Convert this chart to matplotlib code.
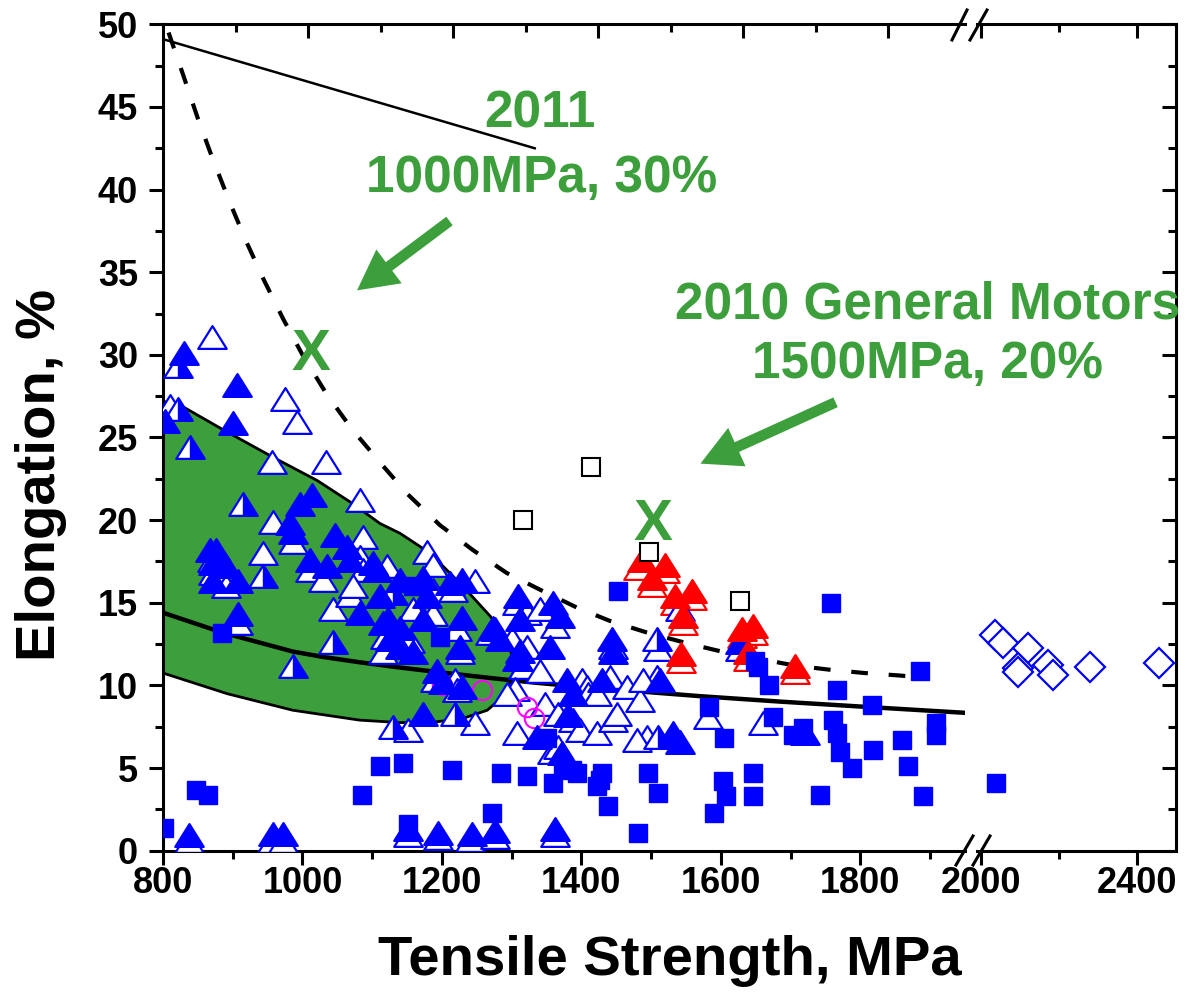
import matplotlib
matplotlib.use("Agg")
import matplotlib.pyplot as plt
from matplotlib.path import Path
from matplotlib.lines import Line2D
from matplotlib.ticker import MultipleLocator, FixedLocator

plt.rcParams['font.family'] = ['Liberation Sans', 'DejaVu Sans']
plt.rcParams['font.weight'] = 'bold'

GREEN = '#3c9f3c'
BLUE = '#0000ff'

# --- data (MPa, %) ---
# open blue triangles
open_x = [870, 810, 975, 992, 956, 1034, 958, 986, 1082, 870, 872, 890, 908, 943, 1011, 1029,
          1044, 1087, 1082, 1087, 1068, 1115, 1072, 1178, 1187, 1121, 1187, 1216, 1247, 1158,
          1187, 1221, 1118, 1154, 1190, 1219, 1226, 1269, 1276, 1221, 1151, 1247, 1308, 1322,
          1341, 1362, 1300, 1322, 1316, 1341, 1305, 1293, 1348, 1366, 1388, 1398, 1308, 1358,
          1401, 1408, 1409, 1422, 1445, 1451, 1441, 1422, 1445, 1465, 1484, 1510, 1508, 1488,
          1494, 1480, 1366, 1582, 1660, 837, 956, 972, 1152, 1194, 1240, 1276, 1362, 1627]
open_y = [31.1, 26.9, 27.3, 25.95, 23.5, 23.5, 19.9, 18.7, 21.2, 17.6, 16.8, 16.0, 13.8, 18.0, 17.0, 16.4,
          14.6, 19.0, 17.8, 17.0, 15.5, 12.0, 16.0, 18.1, 17.3, 17.2, 15.8, 15.8, 16.3, 14.6,
          14.3, 13.4, 12.9, 12.7, 10.3, 10.3, 12.0, 13.2, 13.4, 9.7, 7.3, 7.7, 15.0, 14.4,
          14.6, 13.6, 12.8, 12.3, 11.1, 10.9, 9.8, 9.5, 8.9, 8.3, 7.9, 7.3, 7.1, 6.0,
          10.3, 9.9, 9.5, 7.1, 7.9, 8.3, 10.5, 9.5, 12.3, 9.9, 9.1, 12.2, 10.5, 10.3,
          6.9, 6.7, 6.3, 8.1, 7.7, 0.6, 0.6, 0.6, 0.95, 0.75, 0.65, 0.8, 0.95, 12.2]

# half filled blue triangles (right half blue)
half_x = [822, 821, 839, 915, 943, 986, 1044, 1130, 1130, 1219, 1508, 1510, 1541]
half_y = [29.3, 26.7, 24.4, 21.0, 16.6, 11.2, 12.6, 15.6, 7.5, 8.3, 12.8, 6.9, 14.6]

# filled blue triangles
fill_x = [830, 803, 906, 900, 996, 1014, 982, 986, 867, 876, 872, 890, 872, 908, 908, 1011,
          1035, 1047, 1064, 1068, 1107, 1111, 1082, 1115, 1125, 1101, 1140, 1173, 1178, 1211,
          1229, 1173, 1229, 1122, 1140, 1140, 1158, 1193, 1201, 1226, 1273, 1283, 1229, 1173,
          1309, 1312, 1359, 1369, 1312, 1308, 1355, 1381, 1336, 1379, 1388, 1429, 1444, 1445,
          1513, 1531, 1372, 1720, 1541, 1627, 837, 958, 972, 1152, 1194, 1243, 1276, 1362]
fill_y = [30.1, 26.0, 28.2, 25.9, 21.0, 21.5, 19.8, 19.3, 18.2, 18.2, 17.4, 17.2, 16.3, 16.3, 14.3, 17.6,
          17.2, 19.1, 18.4, 17.6, 17.0, 15.4, 14.4, 13.8, 12.8, 17.4, 16.4, 16.5, 15.4, 16.2,
          16.4, 14.0, 14.1, 14.0, 13.5, 12.3, 12.0, 10.9, 10.2, 12.3, 13.5, 12.8, 9.9, 8.3,
          15.4, 14.0, 15.0, 14.2, 12.1, 11.6, 12.3, 8.2, 6.9, 10.3, 9.5, 10.3, 12.8, 12.0,
          10.3, 7.1, 5.9, 7.1, 6.6, 12.6, 0.95, 1.0, 1.0, 1.3, 1.1, 1.0, 1.2, 1.3]

# red triangles
red_open_x = [1481, 1520, 1501, 1534, 1558, 1546, 1543, 1630, 1646, 1639, 1706]
red_open_y = [17.1, 16.9, 16.1, 15.0, 15.3, 13.8, 11.5, 13.0, 13.2, 11.6, 10.8]
red_fill_x = [1487, 1520, 1501, 1534, 1558, 1546, 1543, 1630, 1646, 1639, 1706]
red_fill_y = [17.6, 17.3, 16.5, 15.4, 15.7, 14.2, 11.9, 13.4, 13.6, 12.0, 11.2]

# filled blue squares
sq_x = [802, 847, 865, 885, 1085, 1111, 1144, 1152, 1158, 1197, 1214, 1272, 1285, 1322, 1350,
        1359, 1374, 1386, 1393, 1422, 1427, 1429, 1438, 1452, 1481, 1495, 1510, 1583, 1590,
        1603, 1604, 1608, 1646, 1646, 1649, 1653, 1669, 1675, 1703, 1718, 1742, 1758, 1761,
        1766, 1766, 1771, 1788, 1816, 1818, 1860, 1868, 1885, 1890, 1908, 1908, 2038]
sq_y = [1.4, 3.7, 3.4, 13.2, 3.4, 5.1, 5.3, 1.6, 16.0, 12.9, 4.9, 2.3, 4.7, 4.5, 6.8,
        4.1, 5.1, 4.9, 4.7, 3.9, 4.3, 4.7, 2.7, 15.7, 1.1, 4.7, 3.5, 8.7, 2.3,
        4.2, 6.8, 3.3, 4.7, 3.3, 11.5, 11.1, 10.0, 8.1, 7.0, 7.4, 3.4, 15.0, 7.9,
        9.7, 7.1, 6.0, 5.0, 8.8, 6.1, 6.7, 5.1, 10.9, 3.3, 7.7, 7.0, 4.1]

# open black squares
bsq_x = [1316, 1413, 1497, 1627]
bsq_y = [20.0, 23.2, 18.1, 15.1]

# magenta open circles
circ_x = [1200, 1258, 1322, 1332]
circ_y = [10.0, 9.7, 8.7, 8.0]

# open blue diamonds (after the axis break)
dia_x = [2036, 2056, 2120, 2095, 2095, 2172, 2185, 2280, 2456]
dia_y = [13.06, 12.57, 12.27, 11.06, 10.8, 11.24, 10.64, 11.1, 11.36]

# curves
dash_x = [808, 830, 850, 870, 895, 920, 945, 972, 1000, 1035, 1071, 1111, 1150, 1197, 1244,
          1293, 1345, 1394, 1441, 1494, 1556, 1606, 1656, 1706, 1756, 1806, 1856, 1870]
dash_y = [49.5, 46.8, 44.3, 42.0, 39.3, 36.8, 34.5, 32.2, 30.0, 27.6, 25.5, 23.5, 21.6, 19.7, 18.2,
          16.8, 15.7, 14.7, 13.9, 13.2, 12.5, 12.0, 11.6, 11.2, 10.95, 10.75, 10.6, 10.55]
trend_x = [800, 885, 986, 1030, 1082, 1140, 1200, 1269, 1330, 1398, 1494, 1570, 1685, 1828, 1947]
trend_y = [14.4, 13.2, 12.05, 11.72, 11.4, 11.08, 10.78, 10.45, 10.18, 9.92, 9.6, 9.35, 9.02, 8.65, 8.35]
top_x = [800, 1333]
top_y = [49.1, 42.5]

# green band
band_x = [800, 829, 885, 958, 1021, 1072, 1111, 1140, 1183, 1230, 1269, 1293, 1302, 1302,
          1287, 1265, 1230, 1183, 1140, 1082, 986, 892, 800]
band_y = [27.2, 26.85, 25.5, 23.8, 22.4, 21.0, 19.8, 19.2, 18.0, 16.0, 14.2, 12.8, 11.6, 10.5,
          9.3, 8.5, 8.0, 7.75, 7.75, 7.9, 8.5, 9.5, 10.75]

# --- figure ---
fig = plt.figure(figsize=(11.92, 9.97), dpi=100)
W, H = 1192.0, 997.0
bot = (H - 850.7) / H
hgt = (850.7 - 24.3) / H
ax1 = fig.add_axes([163 / W, bot, (965 - 163) / W, hgt])
ax2 = fig.add_axes([977 / W, bot, (1176 - 977) / W, hgt])

tri = Path([(-1, -0.8), (1, -0.8), (0, 0.8), (-1, -0.8)],
           [Path.MOVETO, Path.LINETO, Path.LINETO, Path.CLOSEPOLY])
tri_r = Path([(0, 0.8), (0, -0.8), (1, -0.8), (0, 0.8)],
             [Path.MOVETO, Path.LINETO, Path.LINETO, Path.CLOSEPOLY])

ax1.fill(band_x, band_y, facecolor=GREEN, edgecolor='black', lw=2, zorder=1)
ax1.plot(trend_x, trend_y, color='black', lw=3.2, zorder=2)
ax1.plot(top_x, top_y, color='black', lw=1.8, zorder=2)
ax1.plot(dash_x, dash_y, color='black', lw=3, linestyle=(0, (4.0, 5.0)), zorder=2)

ms_tri = 20.5
ax1.plot(open_x, open_y, ls='none', marker=tri, ms=ms_tri, mfc='white', mec=BLUE, mew=1.6, zorder=3)
ax1.plot(red_open_x, red_open_y, ls='none', marker=tri, ms=ms_tri, mfc='white', mec='red', mew=1.6, zorder=3)
ax1.plot(circ_x, circ_y, ls='none', marker='o', ms=14, mfc='none', mec='#ff00ff', mew=1.5, zorder=3.5)
ax1.plot(half_x, half_y, ls='none', marker=tri, ms=ms_tri, mfc='white', mec=BLUE, mew=1.6, zorder=4)
ax1.plot(half_x, half_y, ls='none', marker=tri_r, ms=ms_tri, mfc=BLUE, mec=BLUE, mew=1.0, zorder=4)
ax1.plot(fill_x, fill_y, ls='none', marker=tri, ms=ms_tri, mfc=BLUE, mec=BLUE, mew=1.6, zorder=5)
ax1.plot(red_fill_x, red_fill_y, ls='none', marker=tri, ms=ms_tri, mfc='red', mec='red', mew=1.6, zorder=5)
for ax in (ax1, ax2):
    ax.plot(sq_x, sq_y, ls='none', marker='s', ms=12.5, mfc=BLUE, mec=BLUE, mew=1, zorder=6)
ax1.plot(bsq_x, bsq_y, ls='none', marker='s', ms=13, mfc='white', mec='black', mew=1.5, zorder=6)
ax2.plot(dia_x, dia_y, ls='none', marker='D', ms=15.5, mfc='white', mec=BLUE, mew=1.6, zorder=6)

ax1.set_xlim(800, 1950)
ax2.set_xlim(1990, 2500)
for ax in (ax1, ax2):
    ax.set_ylim(0, 50)
    ax.yaxis.set_major_locator(MultipleLocator(5))
    ax.yaxis.set_minor_locator(MultipleLocator(2.5))
    for s in ax.spines.values():
        s.set_linewidth(2.2)
    ax.tick_params(which='major', length=10, width=2.2, labelsize=26, pad=1)
    ax.tick_params(which='minor', length=5.5, width=2.2)
    for lab in ax.get_xticklabels() + ax.get_yticklabels():
        lab.set_fontweight('bold')

ax1.spines['right'].set_visible(False)
ax2.spines['left'].set_visible(False)

ax1.xaxis.set_major_locator(FixedLocator([800, 1000, 1200, 1400, 1600, 1800]))
ax1.xaxis.set_minor_locator(FixedLocator([900, 1100, 1300, 1500, 1700, 1900]))
ax1.tick_params(axis='x', which='both', direction='out', bottom=True, top=False)
ax1.tick_params(axis='y', which='both', direction='out', left=True, right=False)
ax1.tick_params(axis='y', which='major', pad=8)

ax2.xaxis.set_major_locator(FixedLocator([2000, 2400]))
ax2.xaxis.set_minor_locator(FixedLocator([2200]))
ax2.tick_params(axis='x', which='both', direction='out', bottom=True, top=False)
ax2.tick_params(axis='y', which='both', direction='in', left=False, right=True, labelleft=False)

# top ticks (inward) as drawn in the original
axt = ax1.twiny()
axt.set_xlim(0, 1106)
axt.xaxis.set_major_locator(FixedLocator([200, 400, 600, 800, 1000]))
axt.xaxis.set_minor_locator(FixedLocator([100, 300, 500, 700, 900]))
axt.tick_params(axis='x', which='major', direction='in', length=10, width=2.2, labeltop=False)
axt.tick_params(axis='x', which='minor', direction='in', length=5.5, width=2.2)
for s in axt.spines.values():
    s.set_visible(False)

axt2 = ax2.twiny()
axt2.set_xlim(ax2.get_xlim())
axt2.xaxis.set_major_locator(FixedLocator([2000, 2400]))
axt2.xaxis.set_minor_locator(FixedLocator([2200]))
axt2.tick_params(axis='x', which='major', direction='in', length=10, width=2.2, labeltop=False)
axt2.tick_params(axis='x', which='minor', direction='in', length=5.5, width=2.2)
for s in axt2.spines.values():
    s.set_visible(False)

# break marks
for (x1, y1, x2, y2) in [(956, 865, 973, 836), (973, 865, 990, 836),
                         (952, 40, 967, 10), (970, 40, 987, 10)]:
    fig.add_artist(Line2D([x1 / W, x2 / W], [(H - y1) / H, (H - y2) / H],
                          transform=fig.transFigure, color='black', lw=2.2))

# labels
fig.text(670 / W, (H - 975) / H, 'Tensile Strength, MPa', ha='center', va='baseline',
         fontsize=40.5, fontweight='bold')
fig.text(15 / W, (H - 475) / H, 'Elongation, %', rotation=90, ha='left', va='center',
         fontsize=40.5, fontweight='bold')

# annotations
fig.text(540 / W, (H - 128) / H, '2011', ha='center', va='baseline', fontsize=37,
         fontweight='bold', color=GREEN)
fig.text(542 / W, (H - 192) / H, '1000MPa, 30%', ha='center', va='baseline', fontsize=37,
         fontweight='bold', color=GREEN)
fig.text(928 / W, (H - 318) / H, '2010 General Motors', ha='center', va='baseline', fontsize=37,
         fontweight='bold', color=GREEN)
fig.text(928 / W, (H - 378) / H, '1500MPa, 20%', ha='center', va='baseline', fontsize=37,
         fontweight='bold', color=GREEN)

ax1.text(1012, 29.1, 'X', ha='center', va='baseline', fontsize=42, fontweight='bold',
         color=GREEN, zorder=7)
ax1.text(1502, 18.8, 'X', ha='center', va='baseline', fontsize=42, fontweight='bold',
         color=GREEN, zorder=7)

arrow_style = 'simple,head_length=0.9,head_width=0.95,tail_width=0.24'
ax1.annotate('', xy=(1075, 33.8), xytext=(1214, 38.2),
             arrowprops=dict(arrowstyle=arrow_style, mutation_scale=32, color=GREEN, lw=0),
             annotation_clip=False, zorder=7)
ax1.annotate('', xy=(1567, 23.35), xytext=(1768, 27.2),
             arrowprops=dict(arrowstyle=arrow_style, mutation_scale=32, color=GREEN, lw=0),
             annotation_clip=False, zorder=7)

fig.savefig('out.png', dpi=100)
